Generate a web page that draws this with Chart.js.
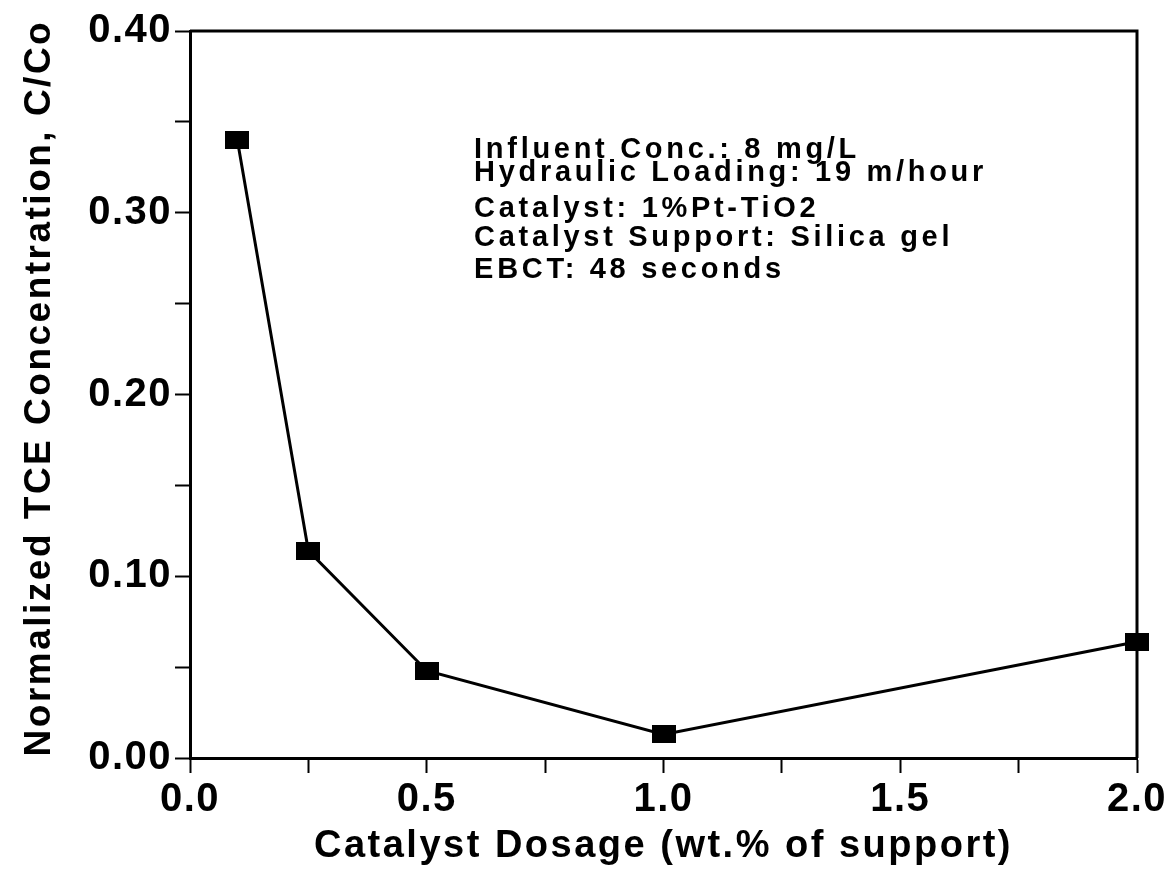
<!DOCTYPE html>
<html>
<head>
<meta charset="utf-8">
<script src="https://cdn.jsdelivr.net/npm/chart.js@4.4.1/dist/chart.umd.min.js"></script>
<style>
html,body{margin:0;padding:0;background:#fff;}
#wrap{width:1175px;height:879px;}
</style>
</head>
<body>
<div id="wrap"><canvas id="c" width="1175" height="879"></canvas></div>
<script>
const dosage = [0.1, 0.25, 0.5, 1.0, 2.0];
const concentration = [0.34, 0.114, 0.048, 0.013, 0.064];
const xTickLabels = ['0.0', '0.5', '1.0', '1.5', '2.0'];
const yTickLabels = ['0.00', '0.10', '0.20', '0.30', '0.40'];
const noteLines = [
  'Influent Conc.: 8 mg/L',
  'Hydraulic Loading: 19 m/hour',
  'Catalyst: 1%Pt-TiO2',
  'Catalyst Support: Silica gel',
  'EBCT: 48 seconds'
];

const FONT = '"Liberation Sans", Arial, Helvetica, sans-serif';

const canvas = document.getElementById('c');
const ctx2d = canvas.getContext('2d');
// wider letter spacing to mimic the scanned typeface
const origFill = ctx2d.fillText;
ctx2d.fillText = function(t, x, y, mw) {
  const m = /(\d+(?:\.\d+)?)px/.exec(this.font);
  const size = m ? parseFloat(m[1]) : 0;
  let ls = '0px';
  if (size >= 40) ls = '1.5px';
  else if (size >= 36) ls = '2.5px';
  else if (size >= 27) ls = '3.7px';
  if ('letterSpacing' in this) this.letterSpacing = ls;
  if (mw === undefined) origFill.call(this, t, x, y); else origFill.call(this, t, x, y, mw);
  if ('letterSpacing' in this) this.letterSpacing = '0px';
};

// rectangular marker
const marker = document.createElement('canvas');
marker.width = 24; marker.height = 18;
(function(){const m = marker.getContext('2d'); m.fillStyle = '#000'; m.fillRect(0,0,24,18);})();

const framePlugin = {
  id: 'frame',
  beforeDatasetsDraw(chart) {
    const {ctx, chartArea: a} = chart;
    ctx.save();
    ctx.strokeStyle = '#000';
    ctx.lineWidth = 3;
    ctx.beginPath();
    ctx.moveTo(a.left, a.top);
    ctx.lineTo(a.right, a.top);
    ctx.lineTo(a.right, a.bottom);
    ctx.stroke();
    ctx.fillStyle = '#000';
    ctx.font = 'bold 29px ' + FONT;
    ctx.textAlign = 'left';
    ctx.textBaseline = 'alphabetic';
    const xs = chart.scales.x;
    const x0 = xs.getPixelForValue(0.6);
    const baselines = [158, 181, 217, 246, 278];
    noteLines.forEach((t, i) => ctx.fillText(t, x0, baselines[i]));
    ctx.restore();
  }
};

new Chart(canvas, {
  type: 'scatter',
  data: {
    datasets: [{
      data: dosage.map((x, i) => ({x, y: concentration[i]})),
      showLine: true,
      clip: false,
      borderColor: '#000',
      borderWidth: 3,
      backgroundColor: '#000',
      pointStyle: marker,
      pointRadius: 10,
      tension: 0
    }]
  },
  plugins: [framePlugin],
  options: {
    responsive: false,
    animation: false,
    devicePixelRatio: 1,
    layout: {padding: {top: 31, right: 38, left: 0, bottom: 0}},
    plugins: {legend: {display: false}, tooltip: {enabled: false}},
    scales: {
      x: {
        type: 'linear', min: 0, max: 2,
        afterFit: (s) => { s.height = 121; },
        border: {display: true, color: '#000', width: 3},
        grid: {display: true, drawOnChartArea: false, drawTicks: true, tickLength: 15, tickWidth: 2, tickColor: '#000'},
        ticks: {
          stepSize: 0.25, color: '#000', padding: 3, maxRotation: 0, autoSkip: false,
          font: {family: FONT, size: 40, weight: 'bold'},
          callback: (v) => {
            const k = Math.round(v / 0.5);
            return Math.abs(v - k * 0.5) < 1e-6 ? xTickLabels[k] : '';
          }
        },
        title: {display: true, text: 'Catalyst Dosage (wt.% of support)', color: '#000',
          font: {family: FONT, size: 38, weight: 'bold'}, padding: {top: 0, bottom: 10}}
      },
      y: {
        type: 'linear', min: 0, max: 0.4,
        afterFit: (s) => { s.width = 190; },
        border: {display: true, color: '#000', width: 3},
        grid: {display: true, drawOnChartArea: false, drawTicks: true, tickLength: 15, tickWidth: 2, tickColor: '#000'},
        ticks: {
          stepSize: 0.05, color: '#000', padding: 3, autoSkip: false,
          font: {family: FONT, size: 40, weight: 'bold'},
          callback: (v) => {
            const k = Math.round(v / 0.1);
            return Math.abs(v - k * 0.1) < 1e-6 ? yTickLabels[k] : '';
          }
        },
        title: {display: true, text: ' Normalized TCE Concentration, C/Co', color: '#000',
          font: {family: FONT, size: 37, weight: 'bold'}, padding: {top: 18, bottom: 0}}
      }
    }
  }
});
</script>
</body>
</html>
